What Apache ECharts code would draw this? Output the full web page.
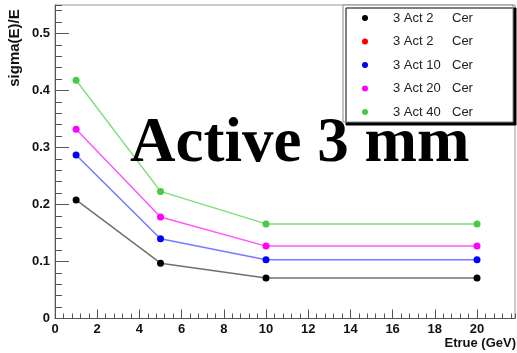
<!DOCTYPE html>
<html>
<head>
<meta charset="utf-8">
<script src="https://cdn.jsdelivr.net/npm/echarts@6/dist/echarts.min.js"></script>
<style>
  html, body { margin: 0; padding: 0; background: #fff; }
  #chart { width: 517px; height: 353px; }
</style>
</head>
<body>
<div id="chart"></div>
<script>
// Energy resolution vs. true energy for 3 mm active layers
const energies = [1, 5, 10, 20];
const seriesNames = ['3 Act 2 Cer', '3 Act 2  Cer', '3 Act 10 Cer', '3 Act 20 Cer', '3 Act 40 Cer'];
const act2Black = [0.208, 0.097, 0.071, 0.071];
const act2Red = [];
const act10 = [0.287, 0.140, 0.103, 0.103];
const act20 = [0.332, 0.178, 0.127, 0.127];
const act40 = [0.418, 0.223, 0.166, 0.166];
const yTickLabels = ['0', '0.1', '0.2', '0.3', '0.4', '0.5'];

const markerColors = ['#000000', '#ff0000', '#0000ff', '#ff00ff', '#44cc44'];
const lineColors = ['#707070', '#ff6666', '#7777ff', '#ff55ff', '#80dd80'];
const values = [act2Black, act2Red, act10, act20, act40];

const font = '"Liberation Sans", Arial, sans-serif';

const chart = echarts.init(document.getElementById('chart'), null, { renderer: 'canvas' });

const series = values.map((vals, i) => ({
  name: seriesNames[i],
  type: 'line',
  xAxisIndex: 0,
  yAxisIndex: 0,
  data: vals.map((v, k) => [energies[k], v]),
  symbol: 'circle',
  symbolSize: 7,
  showSymbol: true,
  itemStyle: { color: markerColors[i] },
  lineStyle: { color: lineColors[i], width: 1.5 },
  emphasis: { disabled: true },
  animation: false,
  z: 2
}));

const axisLineStyle = { color: '#555', width: 1 };
const labelStyle = { fontFamily: font, fontWeight: 'bold', fontSize: 13, color: '#111' };

chart.setOption({
  backgroundColor: '#fff',
  animation: false,
  grid: {
    left: 55, top: 5, right: 2, bottom: 34.5,
    show: true, borderColor: '#999', borderWidth: 1, backgroundColor: 'transparent'
  },
  xAxis: [
    {
      type: 'value', min: 0, max: 21.8, interval: 2,
      axisLine: { show: true, onZero: false, lineStyle: axisLineStyle },
      axisTick: { show: true, inside: true, length: 9, lineStyle: axisLineStyle },
      axisLabel: Object.assign({ margin: 4, showMaxLabel: false }, labelStyle),
      splitLine: { show: false }
    },
    {
      type: 'value', min: 0, max: 21.8, interval: 0.4, position: 'bottom',
      axisLine: { show: false },
      axisTick: { show: true, inside: true, length: 5, lineStyle: axisLineStyle },
      axisLabel: { show: false },
      splitLine: { show: false }
    }
  ],
  yAxis: [
    {
      type: 'value', min: 0, max: 0.55, interval: 0.1,
      axisLine: { show: true, onZero: false, lineStyle: axisLineStyle },
      axisTick: { show: true, inside: true, length: 14, lineStyle: axisLineStyle },
      axisLabel: Object.assign({
        margin: 5, showMaxLabel: false,
        formatter: (v) => yTickLabels[Math.round(v * 10)] || ''
      }, labelStyle),
      splitLine: { show: false }
    },
    {
      type: 'value', min: 0, max: 0.55, interval: 0.02, position: 'left',
      axisLine: { show: false },
      axisTick: { show: true, inside: true, length: 7, lineStyle: axisLineStyle },
      axisLabel: { show: false },
      splitLine: { show: false }
    }
  ],
  legend: {
    left: 343, top: 5,
    orient: 'vertical',
    padding: [6, 26, 3, 19],
    itemGap: 9.5,
    itemWidth: 6,
    itemHeight: 6,
    icon: 'circle',
    backgroundColor: '#fff',
    borderColor: '#888',
    borderWidth: 1,
    shadowColor: '#000',
    shadowBlur: 0,
    shadowOffsetX: 3,
    shadowOffsetY: 3,
    selectedMode: false,
    data: seriesNames,
    formatter: (name) => {
      const m = name.match(/^(.*?)\s+(Cer)$/);
      return '{s| }{a|' + m[1] + '}{b|' + m[2] + '}';
    },
    textStyle: {
      fontFamily: font, fontSize: 13, color: '#222', lineHeight: 14,
      rich: {
        s: { width: 20, fontSize: 13, lineHeight: 14 },
        a: { width: 59, fontFamily: font, fontSize: 13, color: '#222', lineHeight: 14 },
        b: { width: 35, fontFamily: font, fontSize: 13, color: '#222', lineHeight: 14 }
      }
    }
  },
  graphic: [
    {
      type: 'text', x: 130, y: 145, z: 100,
      style: {
        text: 'Active 3 mm',
        font: 'bold 63px "Liberation Serif", "Times New Roman", serif',
        fill: '#000',
        textAlign: 'left',
        textVerticalAlign: 'middle'
      }
    },
    {
      type: 'text', x: 15, y: 48, rotation: Math.PI / 2, z: 100,
      style: {
        text: 'sigma(E)/E',
        font: 'bold 15px ' + font,
        fill: '#111',
        textAlign: 'center',
        textVerticalAlign: 'middle'
      }
    },
    {
      type: 'text', x: 516, y: 343, z: 100,
      style: {
        text: 'Etrue (GeV)',
        font: 'bold 13px ' + font,
        fill: '#111',
        textAlign: 'right',
        textVerticalAlign: 'middle'
      }
    }
  ],
  series: series
});
</script>
</body>
</html>
